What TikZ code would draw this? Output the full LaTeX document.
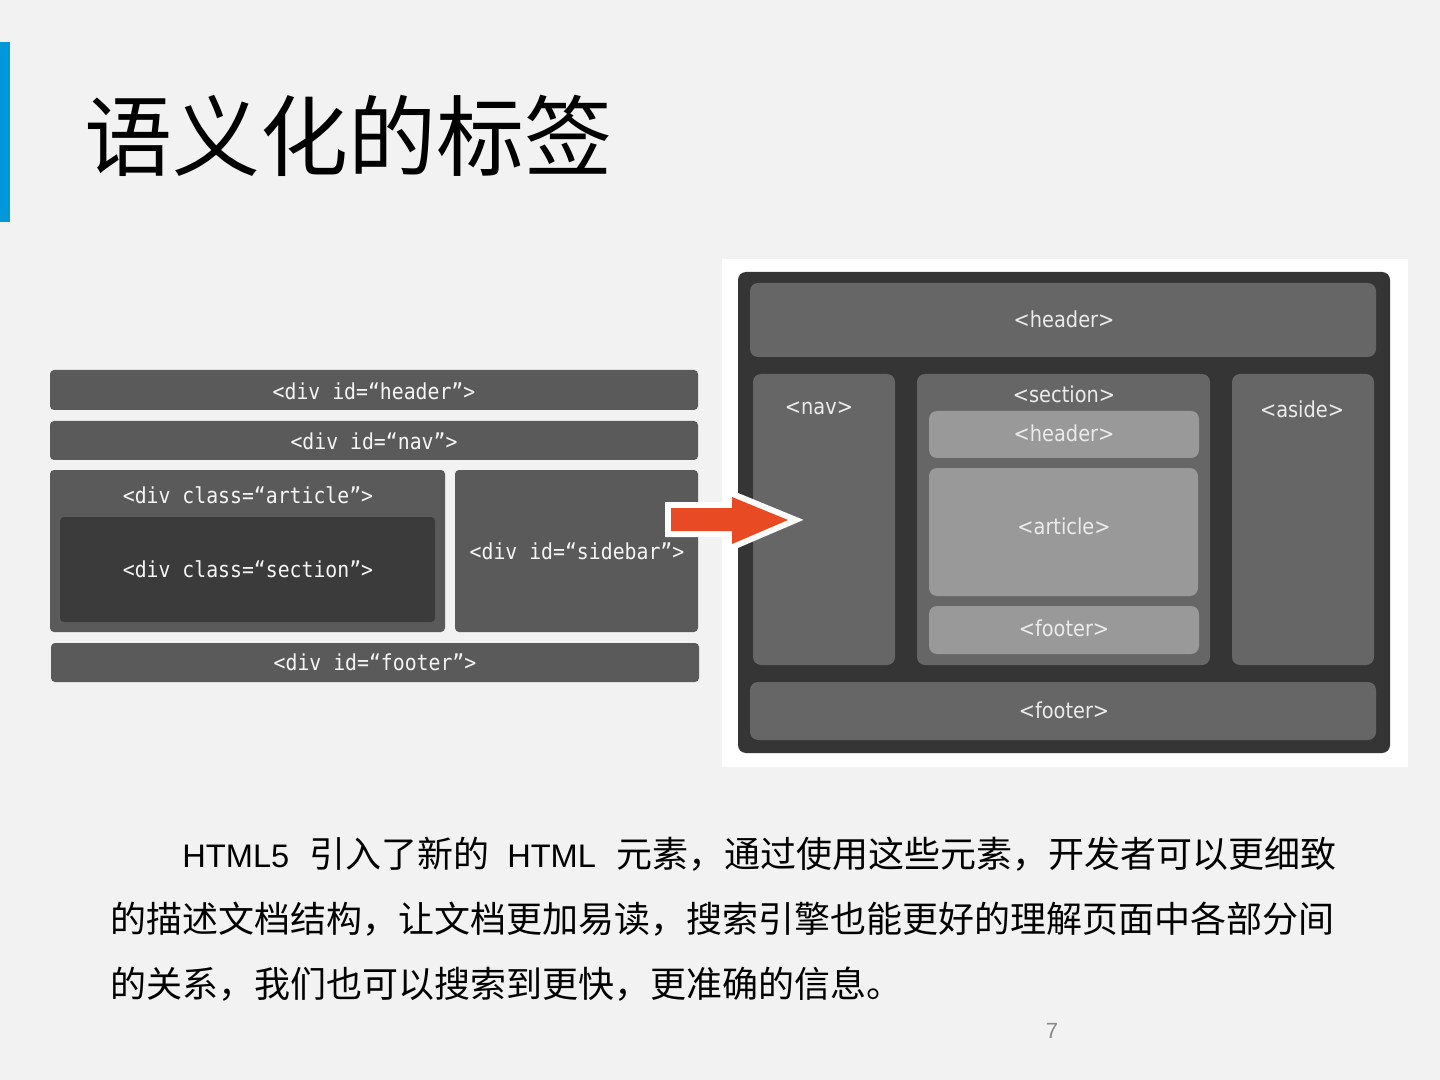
\documentclass[tikz,border=0pt]{standalone}
\usepackage{fontspec}
\setmainfont{Liberation Sans}
\newfontfamily\cjk{Noto Sans CJK SC}
\newfontfamily\monofnt[FakeStretch=0.9]{DejaVu Sans Mono}
\newfontfamily\condfnt[FakeStretch=0.88]{DejaVu Sans}
\definecolor{pagebg}{HTML}{F2F2F2}
\definecolor{barblue}{HTML}{0098D8}
\definecolor{lbox}{HTML}{5A5A5A}
\definecolor{ldark}{HTML}{3B3B3B}
\definecolor{rframe}{HTML}{353535}
\definecolor{rmid}{HTML}{666666}
\definecolor{rlight}{HTML}{999999}
\definecolor{arrowred}{HTML}{E84A23}
\definecolor{pagenum}{HTML}{8A8A8A}
\newcommand{\bodyc}[1]{{\cjk\fontsize{18pt}{22pt}\selectfont #1}}
\newcommand{\bodyl}[1]{{\fontsize{16.3pt}{20pt}\selectfont #1}}
\begin{document}
\begin{tikzpicture}[x=0.5pt,y=-0.5pt,
  lbx/.style={fill=lbox,rounded corners=2pt},
  ldk/.style={fill=ldark,rounded corners=2pt},
  rfr/.style={fill=rframe,rounded corners=4pt},
  rmd/.style={fill=rmid,rounded corners=4pt},
  rlt/.style={fill=rlight,rounded corners=4pt},
  ltxt/.style={text=white!96!black,inner sep=0pt,font=\monofnt\fontsize{11pt}{13pt}\selectfont},
  rtxt/.style={text=white!92!black,inner sep=0pt,font=\condfnt\fontsize{11pt}{13pt}\selectfont},
  bodytxt/.style={anchor=base west,inner sep=0pt,text=black}]
\useasboundingbox (0,0) rectangle (1440,1080);
\fill[pagebg] (0,0) rectangle (1440,1080);
% blue bar
\fill[barblue] (0,42) rectangle (10,222);
% title
\node[anchor=base west,inner sep=0pt] (title) at (84,170)
  {\cjk\fontsize{44pt}{50pt}\selectfont 语义化的标签};
% ---------- left diagram ----------
\fill[lbx] (50,370) rectangle (698,410);
\node[ltxt] (lheader) at (374,391) {<div id=“header”>};
\fill[lbx] (50,421) rectangle (698,460);
\node[ltxt] (lnav) at (374,441) {<div id=“nav”>};
\fill[lbx] (50,470) rectangle (445,632);
\node[ltxt] (larticle) at (248,495) {<div class=“article”>};
\fill[ldk] (60,517) rectangle (435,622);
\node[ltxt] (lsection) at (248,569) {<div class=“section”>};
\fill[lbx] (455,470) rectangle (698,632);
\node[ltxt] (lsidebar) at (577,551) {<div id=“sidebar”>};
\fill[lbx] (51,643) rectangle (699,682);
\node[ltxt] (lfooter) at (375,662) {<div id=“footer”>};
% ---------- right diagram ----------
\fill[white] (722,259) rectangle (1408,767);
\fill[rfr] (738,272) rectangle (1390,753);
\fill[rmd] (750,283) rectangle (1376,357);
\node[rtxt] (rheader) at (1064,319) {<header>};
\fill[rmd] (753,374) rectangle (895,665);
\node[rtxt] (rnav) at (819,408) {<nav>};
\fill[rmd] (917,374) rectangle (1210,665);
\node[rtxt] (rsection) at (1064,394) {<section>};
\fill[rlt] (929,411) rectangle (1199,458);
\node[rtxt] (rsheader) at (1064,433) {<header>};
\fill[rlt] (929,468) rectangle (1198,596);
\node[rtxt] (rarticle) at (1064,526) {<article>};
\fill[rlt] (929,606) rectangle (1199,654);
\node[rtxt] (rsfooter) at (1064,628) {<footer>};
\fill[rmd] (1232,374) rectangle (1374,665);
\node[rtxt] (raside) at (1302,409) {<aside>};
\fill[rmd] (750,682) rectangle (1376,740);
\node[rtxt] (rfooter) at (1064,710) {<footer>};
% ---------- arrow ----------
\path[fill=white,draw=white,line width=6pt,line join=miter,miter limit=3]
  (671,508) -- (732,508) -- (732,497) -- (788,520) -- (732,544) -- (732,531) -- (671,531) -- cycle;
\fill[arrowred]
  (671,508) -- (732,508) -- (732,497) -- (788,520) -- (732,544) -- (732,531) -- (671,531) -- cycle;
% ---------- body text ----------
\node[bodytxt] (line1) at (182,867)
  {\bodyl{HTML5}\hspace{10pt}\bodyc{引入了新的}\hspace{9pt}\bodyl{HTML}\hspace{10pt}\bodyc{元素，通过使用这些元素，开发者可以更细致}};
\node[bodytxt] (line2) at (110,932)
  {\bodyc{的描述文档结构，让文档更加易读，搜索引擎也能更好的理解页面中各部分间}};
\node[bodytxt] (line3) at (110,997)
  {\bodyc{的关系，我们也可以搜索到更快，更准确的信息。}};
\node[inner sep=0pt,text=pagenum] (pnum) at (1052,1031) {\fontsize{11pt}{13pt}\selectfont 7};
\end{tikzpicture}
\end{document}
